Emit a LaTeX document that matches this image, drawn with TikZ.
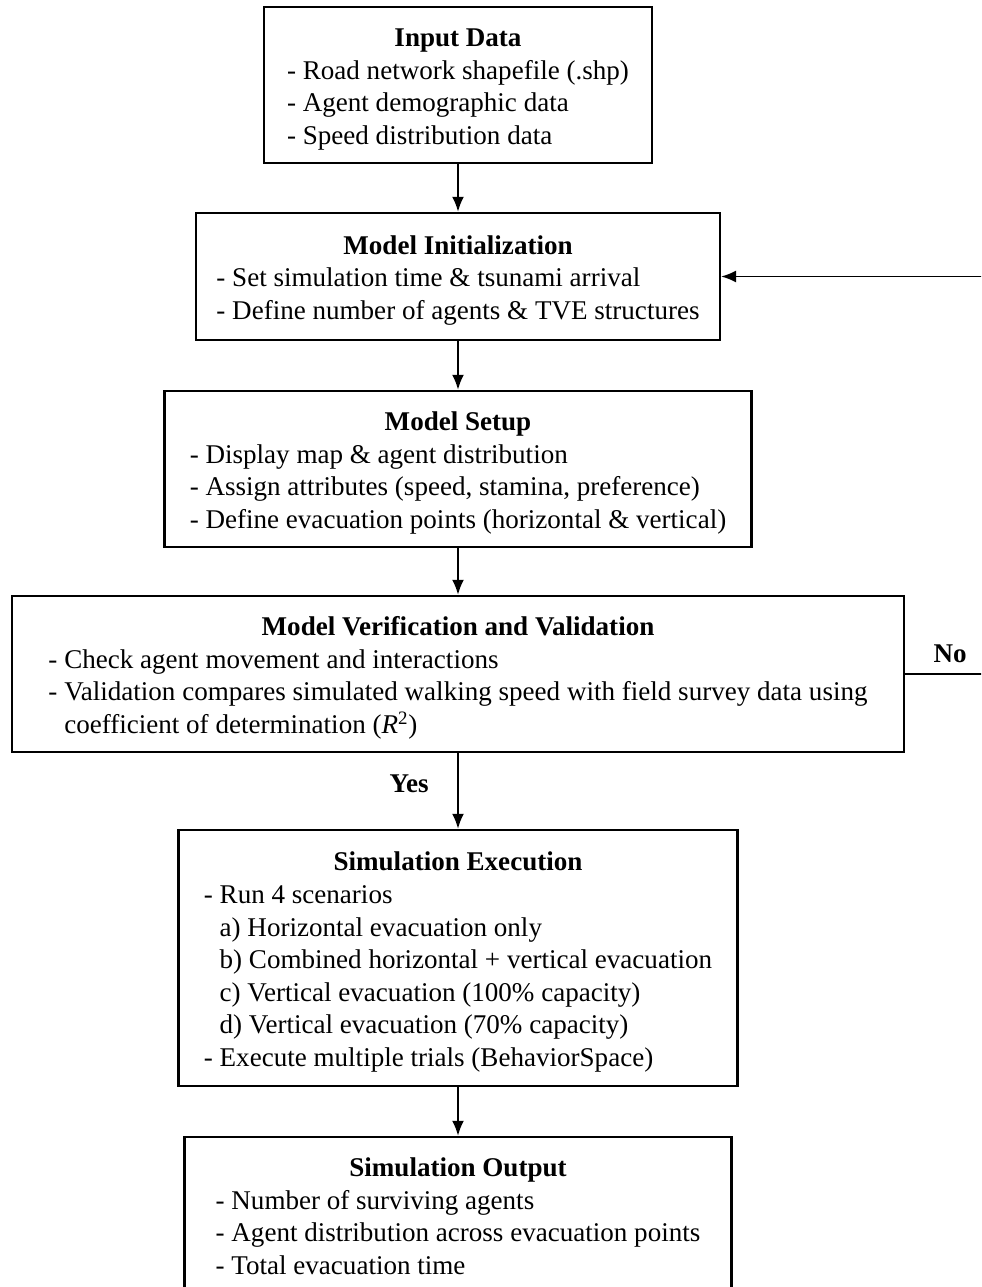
\documentclass[tikz,border=0pt]{standalone}
\usepackage{fontspec}
\setmainfont{Liberation Serif}
\usetikzlibrary{arrows.meta}

\newcommand{\boxtitle}[1]{\rule{0pt}{17.5pt}\textbf{#1}}

\begin{document}
\begin{tikzpicture}[x=0.02cm, y=-0.02cm,
    stage/.style={draw, line width=1.4pt, align=center, inner sep=0pt,
      font=\fontsize{15.4}{18.5}\selectfont},
    flow/.style={-{Latex[length=0.3cm, width=0.24cm]}, line width=1.1pt},
    lbl/.style={font=\fontsize{15.4}{18.5}\selectfont\bfseries}]

  \path[use as bounding box, clip] (0,0) rectangle (981,1287);

  \node[stage, minimum width=7.76cm, minimum height=3.12cm] (input) at (458,85)
    {\boxtitle{Input Data}\\
     \begin{tabular}[t]{@{}l@{}}
       - Road network shapefile (.shp)\\
       - Agent demographic data\\
       - Speed distribution data
     \end{tabular}};
  \node[stage, minimum width=10.48cm, minimum height=2.54cm] (init) at (458,276.5)
    {\boxtitle{Model Initialization}\\
     \begin{tabular}[t]{@{}l@{}}
       - Set simulation time \& tsunami arrival\\
       - Define number of agents \& TVE structures
     \end{tabular}};
  \node[stage, minimum width=11.74cm, minimum height=3.12cm] (setup) at (458,469)
    {\boxtitle{Model Setup}\\
     \begin{tabular}[t]{@{}l@{}}
       - Display map \& agent distribution\\
       - Assign attributes (speed, stamina, preference)\\
       - Define evacuation points (horizontal \& vertical)
     \end{tabular}};
  \node[stage, minimum width=17.84cm, minimum height=3.12cm] (verif) at (458,674)
    {\boxtitle{Model Verification and Validation}\\
     \begin{tabular}[t]{@{}l@{}}
       - Check agent movement and interactions\\
       - Validation compares simulated walking speed with field survey data using\\
       \phantom{- }coefficient of determination (\textit{R}\textsuperscript{2})
     \end{tabular}};
  \node[stage, minimum width=11.18cm, minimum height=5.12cm] (exec) at (458,958)
    {\boxtitle{Simulation Execution}\\
     \begin{tabular}[t]{@{}l@{}}
       - Run 4 scenarios\\
       \phantom{- }a) Horizontal evacuation only\\
       \phantom{- }b) Combined horizontal + vertical evacuation\\
       \phantom{- }c) Vertical evacuation (100\% capacity)\\
       \phantom{- }d) Vertical evacuation (70\% capacity)\\
       - Execute multiple trials (BehaviorSpace)
     \end{tabular}};
  \node[stage, minimum width=10.94cm, minimum height=3.12cm] (output) at (458,1215)
    {\boxtitle{Simulation Output}\\
     \begin{tabular}[t]{@{}l@{}}
       - Number of surviving agents\\
       - Agent distribution across evacuation points\\
       - Total evacuation time
     \end{tabular}};

  \draw[flow] (input) -- (init);
  \draw[flow] (init) -- (setup);
  \draw[flow] (setup) -- (verif);
  \draw[flow] (verif) -- node[lbl, left=0.45cm, pos=0.4] {Yes} (exec);
  \draw[flow] (exec) -- (output);

  % loop back when the check fails
  \coordinate (back) at (995,276.5);
  \draw[flow, line width=0.8pt] (verif.east)
    -- node[lbl, above, yshift=0.1cm] {No} (verif.east -| back)
    -- (back)
    -- (init.east);
\end{tikzpicture}
\end{document}
